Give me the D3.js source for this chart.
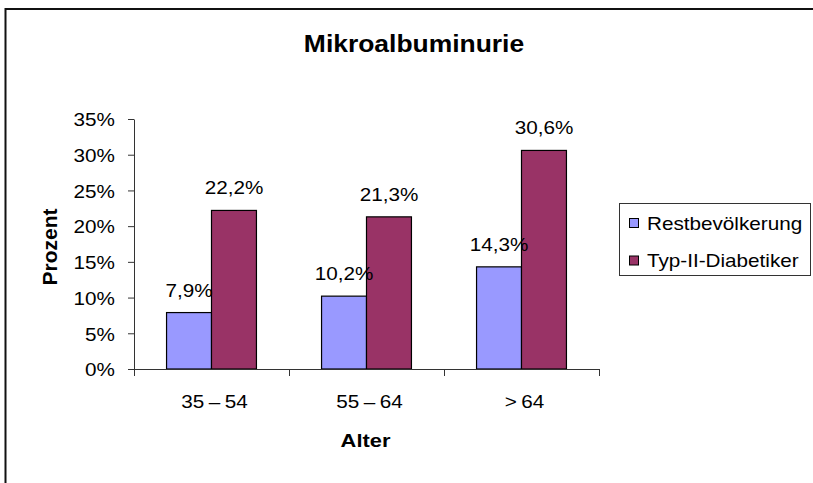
<!DOCTYPE html>
<html>
<head>
<meta charset="utf-8">
<script src="https://cdn.jsdelivr.net/npm/d3@7"></script>
<style>
  body { margin: 0; background: #fff; }
  svg { display: block; font-family: "Liberation Sans", Arial, sans-serif; }
</style>
</head>
<body>
<svg id="chart"></svg>
<script>
const width = 813;
const height = 483;

// data
const categories = ["35 \u2013 54", "55 \u2013 64", "> 64"];
const seriesNames = ["Restbevölkerung", "Typ-II-Diabetiker"];
const restValues = [7.9, 10.2, 14.3];
const diabValues = [22.2, 21.3, 30.6];
const yTicks = [0, 5, 10, 15, 20, 25, 30, 35];
const colors = ["#9999FF", "#993366"];

const sx = 1.15; // text in the picture is a bit stretched horizontally

const svg = d3.select("#chart").attr("width", width).attr("height", height);

// frame (only top and left edge visible)
svg.append("line").attr("x1", 5).attr("x2", width).attr("y1", 9).attr("y2", 9)
  .attr("stroke", "#111").attr("stroke-width", 2);
svg.append("line").attr("x1", 5.5).attr("x2", 5.5).attr("y1", 8).attr("y2", height)
  .attr("stroke", "#111").attr("stroke-width", 2);

function place(sel, x, y, extra) {
  return sel.attr("transform", "translate(" + x + "," + y + ") scale(" + sx + ",1)" + (extra || ""));
}

const x0 = d3.scaleBand().domain(categories).range([134, 599])
  .paddingInner(0.42).paddingOuter(0.21);
const x1 = d3.scaleBand().domain(seriesNames).range([0, x0.bandwidth()]);
const y = d3.scaleLinear().domain([0, 35]).range([369, 119]);

const rows = categories.map((c, i) => ({ cat: c, vals: [restValues[i], diabValues[i]] }));

// title
place(svg.append("text"), 414, 52)
  .attr("text-anchor", "middle").attr("font-weight", "bold").attr("font-size", 23)
  .text("Mikroalbuminurie");

// bars
const groups = svg.selectAll("g.grp").data(rows).enter().append("g")
  .attr("class", "grp")
  .attr("transform", d => "translate(" + x0(d.cat) + ",0)");

groups.selectAll("rect")
  .data(d => d.vals.map((v, j) => ({ name: seriesNames[j], v: v, j: j })))
  .enter().append("rect")
  .attr("x", d => x1(d.name))
  .attr("y", d => y(d.v))
  .attr("width", x1.bandwidth())
  .attr("height", d => y(0) - y(d.v))
  .attr("fill", d => colors[d.j])
  .attr("stroke", "#000")
  .attr("stroke-width", 1.2);

// value labels
groups.selectAll("text.val")
  .data(d => d.vals.map((v, j) => ({ name: seriesNames[j], v: v })))
  .enter().append("text")
  .attr("class", "val")
  .each(function (d) {
    place(d3.select(this), x1(d.name) + x1.bandwidth() / 2, y(d.v) - 16);
  })
  .attr("text-anchor", "middle").attr("font-size", 18)
  .text(d => d3.format(".1f")(d.v).replace(".", ",") + "%");

// y axis
const yAxis = svg.append("g")
  .attr("transform", "translate(134,0)")
  .call(d3.axisLeft(y).tickValues(yTicks).tickSize(6).tickSizeOuter(0).tickFormat(d => d + "%"));
yAxis.select(".domain").attr("stroke", "#333");
yAxis.selectAll(".tick line").attr("stroke", "#333");
yAxis.selectAll(".tick text")
  .attr("x", 0).attr("dy", "0.38em")
  .attr("transform", "translate(-19,0) scale(" + sx + ",1)")
  .attr("font-size", 18).attr("fill", "#000")
  .style("font-family", "Liberation Sans, Arial, sans-serif");

// x axis: line, ticks at group borders, labels centered
const bounds = categories.map(c => x0(c) - (x0.step() - x0.bandwidth()) / 2)
  .concat([x0.range()[1]]);
svg.append("line").attr("x1", 134).attr("x2", 599).attr("y1", y(0) + 0.5).attr("y2", y(0) + 0.5)
  .attr("stroke", "#333");
svg.selectAll("line.xt").data(bounds).enter().append("line")
  .attr("class", "xt")
  .attr("x1", d => d + 0.5).attr("x2", d => d + 0.5)
  .attr("y1", y(0)).attr("y2", y(0) + 7)
  .attr("stroke", "#333");
svg.selectAll("text.cat").data(categories).enter().append("text")
  .attr("class", "cat")
  .each(function (d) {
    place(d3.select(this), x0(d) + x0.bandwidth() / 2 + 3, 408);
  })
  .attr("text-anchor", "middle").attr("font-size", 18)
  .attr("word-spacing", -1)
  .text(d => d);

// axis titles
place(svg.append("text"), 365.5, 446.5)
  .attr("text-anchor", "middle").attr("font-weight", "bold").attr("font-size", 19)
  .text("Alter");
svg.append("text")
  .attr("transform", "translate(57,247) rotate(-90)")
  .attr("text-anchor", "middle").attr("font-weight", "bold").attr("font-size", 21)
  .text("Prozent");

// legend
const legend = svg.append("g").attr("transform", "translate(619,203)");
legend.append("rect").attr("x", 0.5).attr("y", 0.5).attr("width", 191).attr("height", 72)
  .attr("fill", "#fff").attr("stroke", "#333");
const items = legend.selectAll("g.item").data(seriesNames).enter().append("g")
  .attr("class", "item")
  .attr("transform", (d, i) => "translate(0," + (i * 37.5) + ")");
items.append("rect")
  .attr("x", 10.5).attr("y", 15.5).attr("width", 9).attr("height", 9)
  .attr("fill", (d, i) => colors[i]).attr("stroke", "#000");
items.each(function (d) {
  place(d3.select(this).append("text"), 28, 26.5)
    .attr("font-size", 18).text(d);
});
</script>
</body>
</html>
